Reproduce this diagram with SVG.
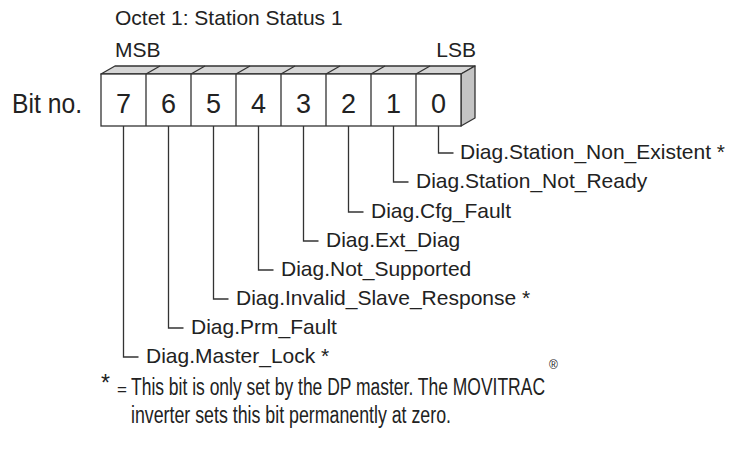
<svg xmlns="http://www.w3.org/2000/svg" width="730" height="459" viewBox="0 0 730 459">
<style>
text{font-family:"Liberation Sans",Arial,sans-serif;fill:#222}
.t{font-size:21px}
.big{font-size:27px}
.lbl{font-size:21px}
.fn{font-size:23px}
.ln{fill:none;stroke:#333;stroke-width:1.3}
.box{fill:#fff;stroke:#333;stroke-width:1.3}
.top{fill:#d6d6d6;stroke:#333;stroke-width:1.3;stroke-linejoin:round}
.side{fill:#c4c4c4;stroke:#333;stroke-width:1.3;stroke-linejoin:round}
</style>
<g id="title">
<text class="t" x="115" y="25">Octet 1: Station Status 1</text>
<text class="t" x="115" y="57">MSB</text>
<text class="t" x="476" y="57" text-anchor="end">LSB</text>
<text class="big" x="12" y="113" textLength="70" lengthAdjust="spacingAndGlyphs">Bit no.</text>
</g>
<g id="octet">
<polygon class="top" points="101,74 115,66 475,66 461,74"/>
<polygon class="side" points="461,74 475,66 475,118 461,126"/>
<rect class="box" x="101" y="74" width="360" height="52"/>
<path class="ln" d="M146,74V126M191,74V126M236,74V126M281,74V126M326,74V126M371,74V126M416,74V126M146,74l14,-8M191,74l14,-8M236,74l14,-8M281,74l14,-8M326,74l14,-8M371,74l14,-8M416,74l14,-8"/>
<g class="big" text-anchor="middle">
<text x="123.5" y="113">7</text>
<text x="168.5" y="113">6</text>
<text x="213.5" y="113">5</text>
<text x="258.5" y="113">4</text>
<text x="303.5" y="113">3</text>
<text x="348.5" y="113">2</text>
<text x="393.5" y="113">1</text>
<text x="438.5" y="113">0</text>
</g>
</g>
<g id="connectors">
<path class="ln" d="M438.5,126V153H453.5"/>
<path class="ln" d="M393.5,126V182H408.5"/>
<path class="ln" d="M348.5,126V212H363.5"/>
<path class="ln" d="M303.5,126V241H318.5"/>
<path class="ln" d="M258.5,126V270H273.5"/>
<path class="ln" d="M213.5,126V299H228.5"/>
<path class="ln" d="M168.5,126V328H183.5"/>
<path class="ln" d="M123.5,126V357H138.5"/>
</g>
<g id="labels" class="lbl">
<text x="460" y="159">Diag.Station_Non_Existent *</text>
<text x="416" y="188">Diag.Station_Not_Ready</text>
<text x="371" y="218">Diag.Cfg_Fault</text>
<text x="326" y="247">Diag.Ext_Diag</text>
<text x="281" y="276">Diag.Not_Supported</text>
<text x="236" y="305">Diag.Invalid_Slave_Response *</text>
<text x="191" y="334">Diag.Prm_Fault</text>
<text x="146" y="363">Diag.Master_Lock *</text>
</g>
<g id="footnote">
<text class="fn" x="101" y="391">*</text>
<text x="117" y="395" style="font-size:17px">=</text>
<text class="fn" x="131" y="395" textLength="414" lengthAdjust="spacingAndGlyphs">This bit is only set by the DP master. The MOVITRAC</text>
<text x="549" y="369" style="font-size:12px">®</text>
<text class="fn" x="131" y="423" textLength="320" lengthAdjust="spacingAndGlyphs">inverter sets this bit permanently at zero.</text>
</g>
</svg>
